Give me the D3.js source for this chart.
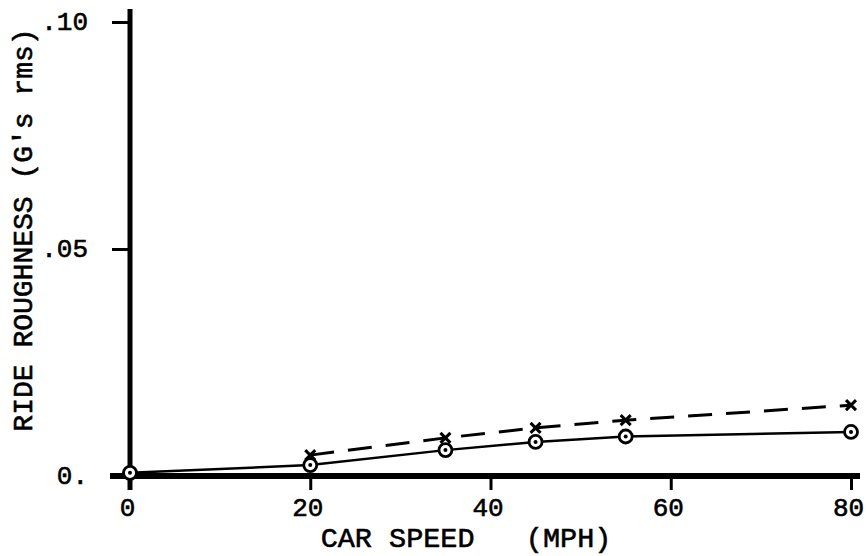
<!DOCTYPE html>
<html>
<head>
<meta charset="utf-8">
<script src="https://cdn.jsdelivr.net/npm/d3@7"></script>
<style>
  html, body { margin: 0; padding: 0; background: #fff; }
  svg { display: block; }
  text { font-family: "Liberation Mono", "DejaVu Sans Mono", monospace; fill: #000; stroke: #000; stroke-width: 0.6px; }
</style>
</head>
<body>
<svg id="chart" width="866" height="556"></svg>
<script>
// ---- data ----
const speedsCircle = [0, 20, 35, 45, 55, 80];
const roughCircle  = [0.0007, 0.0024, 0.0057, 0.0075, 0.0087, 0.0097];
const speedsCross  = [20, 35, 45, 55, 80];
const roughCross   = [0.0046, 0.0084, 0.0106, 0.0123, 0.0156];
const xTicks = [0, 20, 40, 60, 80];
const xTickLabels = ["0", "20", "40", "60", "80"];
const yTicks = [0, 0.05, 0.10];
const yTickLabels = ["0.", ".05", ".10"];
const xTitle = "CAR SPEED   (MPH)";
const yTitle = "RIDE ROUGHNESS (G's rms)";

const svg = d3.select("#chart");
const x = d3.scaleLinear().domain([0, 80]).range([130, 851]);
const y = d3.scaleLinear().domain([0, 0.10]).range([476, 22]);

// ---- axes ----
const yAxis = d3.axisLeft(y)
  .tickValues(yTicks)
  .tickSize(18)
  .tickPadding(24)
  .tickFormat((d, i) => yTickLabels[i]);
const gy = svg.append("g").attr("transform", "translate(" + x(0) + ",0)").call(yAxis);
gy.select(".domain").remove();
gy.selectAll(".tick line").attr("stroke", "#000").attr("stroke-width", 3);
gy.selectAll(".tick text").style("font-size", "26px").attr("dy", "0.3em");
gy.append("line")
  .attr("x1", 0).attr("x2", 0)
  .attr("y1", y(0.10) - 13).attr("y2", y(0) + 14)
  .attr("stroke", "#000").attr("stroke-width", 5);

const xAxis = d3.axisBottom(x)
  .tickValues(xTicks)
  .tickSize(14)
  .tickPadding(8)
  .tickFormat((d, i) => xTickLabels[i]);
const gx = svg.append("g").attr("transform", "translate(0," + y(0) + ")").call(xAxis);
gx.select(".domain").remove();
gx.selectAll(".tick line").attr("stroke", "#000").attr("stroke-width", 3);
gx.selectAll(".tick text").style("font-size", "26px").attr("dx", -3);
gx.append("line")
  .attr("x1", x(0) - 20).attr("x2", x(80) + 9)
  .attr("y1", 0).attr("y2", 0)
  .attr("stroke", "#000").attr("stroke-width", 6);

// ---- titles ----
svg.append("text")
  .attr("x", 466).attr("y", 547)
  .attr("text-anchor", "middle")
  .style("font-size", "28.5px")
  .style("white-space", "pre")
  .attr("xml:space", "preserve")
  .text(xTitle);
svg.append("text")
  .attr("transform", "translate(32,230) rotate(-90)")
  .attr("text-anchor", "middle")
  .style("font-size", "28px")
  .text(yTitle);

// ---- lines ----
const circlePts = speedsCircle.map((s, i) => [s, roughCircle[i]]);
const crossPts = speedsCross.map((s, i) => [s, roughCross[i]]);
const line = d3.line().x(d => x(d[0])).y(d => y(d[1]));

svg.append("path").datum(circlePts)
  .attr("d", line).attr("fill", "none")
  .attr("stroke", "#000").attr("stroke-width", 2.5);
svg.append("path").datum(crossPts)
  .attr("d", line).attr("fill", "none")
  .attr("stroke", "#000").attr("stroke-width", 3)
  .attr("stroke-dasharray", "24,14");

// ---- markers ----
const cg = svg.append("g").selectAll("g").data(circlePts).join("g")
  .attr("transform", d => "translate(" + x(d[0]) + "," + y(d[1]) + ")");
cg.append("circle").attr("r", 6.5).attr("fill", "#fff")
  .attr("stroke", "#000").attr("stroke-width", 2.8);
cg.append("circle").attr("r", 2).attr("fill", "#000");

const xg = svg.append("g").selectAll("g").data(crossPts).join("g")
  .attr("transform", d => "translate(" + x(d[0]) + "," + y(d[1]) + ")");
xg.append("path").attr("d", "M-5,-5L5,5M5,-5L-5,5")
  .attr("stroke", "#000").attr("stroke-width", 3).attr("fill", "none");
</script>
</body>
</html>
